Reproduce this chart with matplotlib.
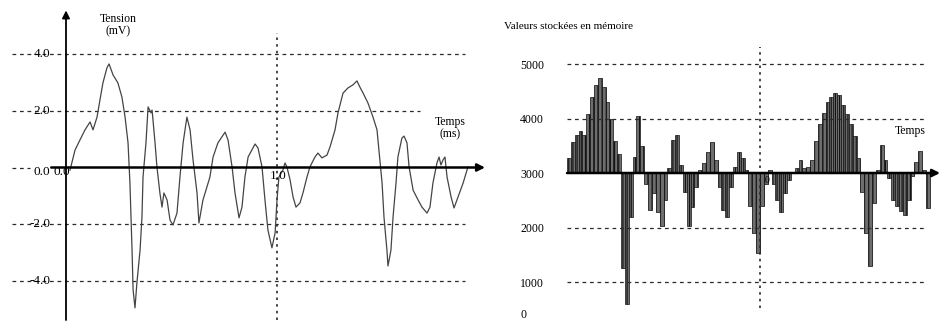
import numpy as np
import matplotlib
matplotlib.use("Agg")
import matplotlib.pyplot as plt

plt.rcParams['font.family'] = ['Liberation Serif', 'DejaVu Serif']
plt.rcParams['hatch.linewidth'] = 0.8

# ---------------- data ----------------
# left panel: analog voltage trace (time in ms, voltage in mV)
trace_t = [0.019, 0.043, 0.066, 0.090, 0.114, 0.128, 0.147, 0.161, 0.175, 0.194,
           0.204, 0.223, 0.246, 0.265, 0.280, 0.294, 0.303, 0.313, 0.318, 0.327,
           0.336, 0.351, 0.360, 0.365, 0.379, 0.389, 0.403, 0.408, 0.422, 0.431,
           0.445, 0.455, 0.464, 0.479, 0.493, 0.507, 0.526, 0.540, 0.555, 0.573,
           0.588, 0.602, 0.621, 0.630, 0.649, 0.682, 0.697, 0.720, 0.754, 0.768,
           0.787, 0.801, 0.820, 0.834, 0.848, 0.863, 0.896, 0.910, 0.929, 0.943,
           0.957, 0.976, 0.991, 1.000, 1.009, 1.028, 1.038, 1.047, 1.062, 1.076,
           1.090, 1.109, 1.123, 1.142, 1.156, 1.180, 1.194, 1.213, 1.237, 1.251,
           1.275, 1.289, 1.313, 1.336, 1.360, 1.379, 1.393, 1.408, 1.431, 1.455,
           1.474, 1.483, 1.498, 1.507, 1.521, 1.526, 1.540, 1.550, 1.564, 1.573,
           1.592, 1.602, 1.616, 1.626, 1.645, 1.664, 1.687, 1.711, 1.725, 1.739,
           1.758, 1.768, 1.777, 1.787, 1.796, 1.806, 1.825, 1.839, 1.858, 1.882,
           1.905]
trace_mv = [-0.09, 0.62, 0.97, 1.33, 1.61, 1.33, 1.78, 2.39, 2.99, 3.52,
            3.66, 3.27, 2.99, 2.49, 1.78, 0.87, -0.55, -2.92, -4.33, -4.96,
            -4.08, -2.92, -1.75, -0.34, 0.87, 2.14, 1.93, 2.03, 0.87, 0.02,
            -0.90, -1.40, -0.90, -1.15, -1.86, -2.03, -1.61, -0.34, 0.87, 1.78,
            1.33, 0.27, -0.90, -1.96, -1.15, -0.34, 0.37, 0.87, 1.25, 0.97,
            0.02, -0.90, -1.78, -1.40, -0.34, 0.37, 0.83, 0.69, 0.02, -1.15,
            -2.21, -2.84, -2.31, -1.15, -0.34, -0.09, 0.16, 0.02, -0.44, -1.04,
            -1.40, -1.25, -0.90, -0.34, 0.02, 0.37, 0.51, 0.34, 0.44, 0.72,
            1.33, 1.93, 2.63, 2.81, 2.92, 3.06, 2.84, 2.63, 2.28, 1.78,
            1.33, 0.62, -0.55, -1.75, -2.92, -3.48, -2.92, -1.75, -0.55, 0.37,
            1.04, 1.11, 0.87, 0.02, -0.80, -1.08, -1.40, -1.61, -1.40, -0.55,
            0.16, 0.37, 0.09, 0.27, 0.37, -0.34, -1.04, -1.43, -1.04, -0.55,
            0.02]

left_yticks = [4.0, 2.0, 0.0, -2.0, -4.0]
left_yticklabels = ["4.0", "2.0", "0.0", "-2.0", "-4.0"]
left_xtick_major = 1.0
left_xticklabels = ["0.0", "1.0"]

# right panel: stored samples (one every sample_period ms)
sample_period = 0.02
stored_values = [3275, 3560, 3690, 3770, 3700, 4080, 4400, 4620, 4750, 4580,
                 4300, 4000, 3580, 3350, 1250, 600, 2200, 3300, 4050, 3500,
                 2800, 2320, 2630, 2280, 2030, 2500, 3100, 3600, 3700, 3150,
                 2650, 2030, 2380, 2750, 3050, 3180, 3380, 3570, 3240, 2750,
                 2330, 2200, 2750, 3110, 3390, 3280, 3050, 2400, 1900, 1530,
                 2400, 2800, 3050, 2800, 2500, 2280, 2630, 2880, 3020, 3100,
                 3240, 3090, 3110, 3240, 3580, 3900, 4100, 4300, 4400, 4460,
                 4430, 4250, 4080, 3900, 3680, 3280, 2650, 1900, 1300, 2450,
                 3050, 3520, 3240, 2900, 2500, 2400, 2300, 2230, 2500, 2950,
                 3200, 3400, 3050, 2350]
baseline_value = 3000
right_yticks = [5000, 4000, 3000, 2000, 1000]
right_yticklabels = ["5000", "4000", "3000", "2000", "1000"]

# ---------------- figure ----------------
W, H = 951, 325
fig = plt.figure(figsize=(W / 100, H / 100), dpi=100)
dash = (0, (3.0, 3.0))
gcol = '#2a2a2a'

# ---- left axes ----
axL = fig.add_axes([10 / W, 5 / H, 480 / W, 315 / H])
axL.set_xlim((10 - 66) / 211, (490 - 66) / 211)
axL.set_ylim((167.5 - 320) / 28.3, (167.5 - 5) / 28.3)
axL.axis('off')

grid_x0, grid_x1 = -0.256, 1.89
for v in left_yticks:
    x1 = 1.68 if v == 2.0 else grid_x1
    if v == 0.0:
        axL.hlines(v, grid_x0, -0.17, linestyles=dash, lw=0.9, color=gcol)
    else:
        axL.hlines(v, grid_x0, x1, linestyles=dash, lw=0.9, color=gcol)
axL.vlines(left_xtick_major, -5.39, 4.75, linestyles=(0, (1.5, 2.5)), lw=1.2, color=gcol)

# axes with arrows
axL.annotate('', xy=(0, 5.55), xytext=(0, -5.39),
             arrowprops=dict(arrowstyle='-|>', lw=1.3, color='black', mutation_scale=11,
                             shrinkA=0, shrinkB=0))
axL.annotate('', xy=(1.986, 0), xytext=(-0.07, 0),
             arrowprops=dict(arrowstyle='-|>', lw=1.8, color='black', mutation_scale=11,
                             shrinkA=0, shrinkB=0))

axL.plot(trace_t, trace_mv, color='#444444', lw=0.9)

fs = 9.5
for v, lab in zip(left_yticks, left_yticklabels):
    dy = -0.15 if v == 0.0 else 0.0
    axL.text(-0.075, v + dy, lab, ha='right', va='center', fontsize=fs)
axL.text(-0.018, -0.16, left_xticklabels[0], ha='center', va='center', fontsize=fs)
axL.text(left_xtick_major + 0.005, -0.3, left_xticklabels[1], ha='center', va='center', fontsize=fs)
axL.text(0.246, 5.04, "Tension\n(mV)", ha='center', va='center', fontsize=8.5, linespacing=1.05)
axL.text(1.82, 1.40, "Temps\n(ms)", ha='center', va='center', fontsize=8.5, linespacing=1.05)

# ---- right axes ----
axR = fig.add_axes([495 / W, 5 / H, 456 / W, 315 / H])
axR.set_xlim((495 - 567) / 193, (951 - 567) / 193)
axR.set_ylim(3000 + (173 - 320) / 54.5 * 1000, 3000 + (173 - 5) / 54.5 * 1000)
axR.axis('off')

for v in right_yticks:
    if v != baseline_value:
        axR.hlines(v, 0, 1.855, linestyles=dash, lw=0.9, color=gcol)
axR.vlines(1.0, 523, 5312, linestyles=(0, (1.5, 2.5)), lw=1.2, color=gcol)

n = len(stored_values)
ts = np.arange(n) * sample_period + sample_period / 2
heights = np.array(stored_values) - baseline_value
axR.bar(ts, heights, bottom=baseline_value, width=sample_period,
        color='#6e6e6e', edgecolor='#111111', linewidth=0.5, hatch='||||')

axR.annotate('', xy=(1.933, baseline_value), xytext=(0, baseline_value),
             arrowprops=dict(arrowstyle='-|>', lw=1.8, color='black', mutation_scale=11,
                             shrinkA=0, shrinkB=0))

for v, lab in zip(right_yticks, right_yticklabels):
    axR.text(-0.2435, v - 30, lab, ha='left', va='center', fontsize=8.5)
axR.text(-0.2435, 395, "0", ha='left', va='center', fontsize=8.5)
axR.text(-0.326, 5679, "Valeurs stockées en mémoire", ha='left', va='center', fontsize=8)
axR.text(1.777, 3770, "Temps", ha='center', va='center', fontsize=8.5)
axR.text(1.036, 2870, "0", ha='center', va='center', fontsize=7)

fig.savefig("out.png", dpi=100)
